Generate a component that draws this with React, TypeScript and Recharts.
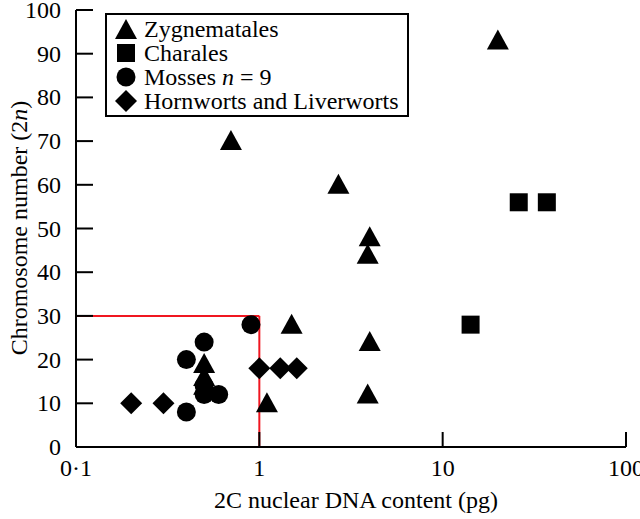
import React from "react";
import {
  ScatterChart,
  Scatter,
  XAxis,
  YAxis,
  ReferenceLine,
} from "recharts";

// 2C nuclear DNA content (pg) and chromosome number (2n) per group
const zygnematalesDna = [0.7, 2.7, 20, 4.0, 3.9, 4.0, 3.9, 1.5, 1.1, 0.5, 0.5, 0.5];
const zygnematalesChrom = [70, 60, 93, 48, 44, 24, 12, 28, 10, 19, 16, 14];
const charalesDna = [26, 37, 14.2];
const charalesChrom = [56, 56, 28];
const mossesDna = [0.9, 0.5, 0.4, 0.4, 0.5, 0.6, 0.5];
const mossesChrom = [28, 24, 20, 8, 12, 12, 14];
const hornwortsDna = [0.2, 0.3, 1.0, 1.3, 1.6];
const hornwortsChrom = [10, 10, 18, 18, 18];

const xTicks = [0.1, 1, 10, 100];
const yTicks = [0, 10, 20, 30, 40, 50, 60, 70, 80, 90, 100];

const FONT = "Liberation Serif, Times New Roman, Times, DejaVu Serif, serif";
const FS = 24;
const RED = "#f01620";

const toPoints = (xs: number[], ys: number[]) => xs.map((x, i) => ({ x, y: ys[i] }));

const zygnematales = toPoints(zygnematalesDna, zygnematalesChrom);
const charales = toPoints(charalesDna, charalesChrom);
const mosses = toPoints(mossesDna, mossesChrom);
const hornworts = toPoints(hornwortsDna, hornwortsChrom);

const triPath = (cx: number, cy: number) =>
  `M${cx},${cy - 11} L${cx + 11},${cy + 9} L${cx - 11},${cy + 9} Z`;
const diaPath = (cx: number, cy: number) =>
  `M${cx},${cy - 11} L${cx + 11},${cy} L${cx},${cy + 11} L${cx - 11},${cy} Z`;

const Triangle = (p: any) => <path d={triPath(p.cx, p.cy)} fill="#000" />;
const Square = (p: any) => (
  <rect x={p.cx - 9} y={p.cy - 9} width={18} height={18} fill="#000" />
);
const Circle = (p: any) => <circle cx={p.cx} cy={p.cy} r={9.5} fill="#000" />;
const Diamond = (p: any) => <path d={diaPath(p.cx, p.cy)} fill="#000" />;

const fmtX = (v: number) => (v === 0.1 ? "0·1" : String(v));

const XTick = (props: any) => {
  const { x, y, payload } = props;
  return (
    <g>
      {payload.value !== 0.1 && (
        <line x1={x} x2={x} y1={y} y2={y - 15} stroke="#000" strokeWidth={2} />
      )}
      <text x={x} y={y + 29} textAnchor="middle" style={{ fontFamily: FONT }} fontSize={FS} fill="#000">
        {fmtX(payload.value)}
      </text>
    </g>
  );
};

const YTick = (props: any) => {
  const { x, y, payload } = props;
  return (
    <g>
      {payload.value !== 0 && (
        <line x1={x} x2={x + 17} y1={y} y2={y} stroke="#000" strokeWidth={2} />
      )}
      <text x={x - 15} y={y + 8} textAnchor="end" style={{ fontFamily: FONT }} fontSize={FS} fill="#000">
        {payload.value}
      </text>
    </g>
  );
};

const legendItems = [
  { name: "Zygnematales", kind: "tri" },
  { name: "Charales", kind: "sq" },
  { name: "Mosses", kind: "circ" },
  { name: "Hornworts and Liverworts", kind: "dia" },
];

function LegendIcon({ kind }: { kind: string }) {
  return (
    <svg width={24} height={24} style={{ display: "block" }}>
      {kind === "tri" && <path d={triPath(12, 13)} fill="#000" />}
      {kind === "sq" && <rect x={3} y={3} width={18} height={18} fill="#000" />}
      {kind === "circ" && <circle cx={12} cy={12} r={9.5} fill="#000" />}
      {kind === "dia" && <path d={diaPath(12, 12)} fill="#000" />}
    </svg>
  );
}

export default function App() {
  return (
    <div style={{ position: "absolute", left: 0, top: 0, width: 640, height: 519, background: "#fff" }}>
      <ScatterChart width={640} height={519} margin={{ top: 10, right: 14, bottom: 0, left: 0 }}>
        <XAxis
          type="number"
          dataKey="x"
          scale="log"
          domain={[0.1, 100]}
          ticks={xTicks}
          allowDataOverflow
          height={72}
          tickSize={0}
          tickMargin={0}
          tickLine={false}
          axisLine={{ stroke: "#000", strokeWidth: 2 }}
          tick={<XTick />}
          interval={0}
          label={{
            content: () => (
              <text x={356} y={508} textAnchor="middle" style={{ fontFamily: FONT }} fontSize={FS} fill="#000">
                2C nuclear DNA content (pg)
              </text>
            ),
          }}
        />
        <YAxis
          type="number"
          dataKey="y"
          domain={[0, 100]}
          ticks={yTicks}
          width={76}
          tickSize={0}
          tickMargin={0}
          tickLine={false}
          axisLine={{ stroke: "#000", strokeWidth: 2 }}
          tick={<YTick />}
          interval={0}
          label={{
            content: () => (
              <text
                x={21}
                y={228}
                transform="rotate(-90, 21, 228)"
                textAnchor="middle"
                dominantBaseline="middle"
                style={{ fontFamily: FONT }}
                fontSize={FS}
                fill="#000"
              >
                Chromosome number (2<tspan fontStyle="italic">n</tspan>)
              </text>
            ),
          }}
        />
        <ReferenceLine
          segment={[{ x: 0.1, y: 30 }, { x: 1, y: 30 }]}
          stroke={RED}
          strokeWidth={2}
        />
        <ReferenceLine
          segment={[{ x: 1, y: 0 }, { x: 1, y: 30 }]}
          stroke={RED}
          strokeWidth={2}
        />
        <Scatter data={hornworts} shape={<Diamond />} isAnimationActive={false} />
        <Scatter data={mosses} shape={<Circle />} isAnimationActive={false} />
        <Scatter data={charales} shape={<Square />} isAnimationActive={false} />
        <Scatter data={zygnematales} shape={<Triangle />} isAnimationActive={false} />
      </ScatterChart>
      <div
        style={{
          position: "absolute",
          left: 105,
          top: 13,
          width: 300,
          height: 98,
          border: "2px solid #000",
          fontFamily: FONT,
          fontSize: FS,
          lineHeight: "24px",
          paddingTop: 2,
          boxSizing: "content-box",
        }}
      >
        {legendItems.map((it) => (
          <div key={it.name} style={{ display: "flex", alignItems: "center", height: 24, marginLeft: 7 }}>
            <LegendIcon kind={it.kind} />
            <span style={{ marginLeft: 6, whiteSpace: "nowrap" }}>
              {it.kind === "circ" ? (
                <>
                  Mosses <i>n</i> = 9
                </>
              ) : (
                it.name
              )}
            </span>
          </div>
        ))}
      </div>
    </div>
  );
}
